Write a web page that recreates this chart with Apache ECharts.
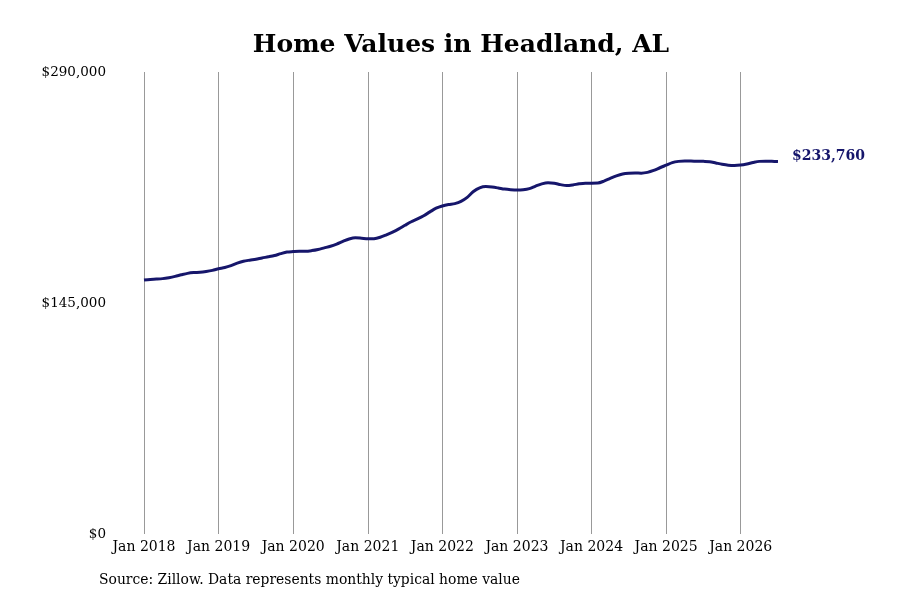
<!DOCTYPE html>
<html>
<head>
<meta charset="utf-8">
<script src="https://cdn.jsdelivr.net/npm/echarts@6/dist/echarts.min.js"></script>
<style>
html,body{margin:0;padding:0;background:#fff;}
#main{width:900px;height:600px;}
</style>
</head>
<body>
<div id="main"></div>
<script>
//年份
var years = [2018, 2019, 2020, 2021, 2022, 2023, 2024, 2025, 2026];
var monthNames = ['Jan','Feb','Mar','Apr','May','Jun','Jul','Aug','Sep','Oct','Nov','Dec'];
//月度房价 (Jan 2018 - Jul 2026)
var values2018 = [159400,159800,160000,160300,160900,161700,162700,163600,164100,164300,164800,165500];
var values2019 = [166500,167300,168500,170000,171200,171900,172500,173300,174000,174800,176000,177000];
var values2020 = [177300,177500,177500,177900,178600,179600,180600,182000,183700,185200,186000,185700];
var values2021 = [185300,185400,186300,187800,189500,191500,193800,196000,197800,199800,202200,204500];
var values2022 = [205900,206800,207400,208800,211300,215000,217300,218100,217800,217200,216500,216100];
var values2023 = [215900,216100,216800,218400,219800,220500,220200,219300,218700,219100,219800,220200];
var values2024 = [220200,220300,221500,223200,224800,226000,226500,226600,226500,227000,228200,229900];
var values2025 = [231500,233100,233900,234200,234100,234000,233900,233700,232900,232100,231500,231300];
var values2026 = [231600,232300,233200,233900,234000,233900,233760];
//Y轴刻度
var yTicks = [0, 145000, 290000];

window.onload = function() {
	initChart_line("main");
};

function fmtMoney(v) {
	return '$' + Math.round(v).toString().replace(/\B(?=(\d{3})+(?!\d))/g, ',');
}

/**
 * 折线图
 */
function initChart_line(selector) {
	var dom = document.getElementById(selector);
	var myChart = echarts.init(dom);
	var allValues = [].concat(values2018, values2019, values2020, values2021, values2022,
		values2023, values2024, values2025, values2026);
	var time = [];
	for (var i = 0; i < allValues.length; i++) {
		time.push(monthNames[i % 12] + ' ' + years[Math.floor(i / 12)]);
	}
	var font = 'DejaVu Serif';
	var option = {
		backgroundColor: '#fff',
		title: {
			text: 'Home Values in Headland, AL',
			left: 456,
			top: 28,
			textAlign: 'center',
			textStyle: {
				fontFamily: font,
				fontWeight: 'bold',
				fontSize: 25,
				color: '#000'
			}
		},
		graphic: [{
			type: 'text',
			left: 99,
			top: 573,
			style: {
				text: 'Source: Zillow. Data represents monthly typical home value',
				font: '13.9px "DejaVu Serif"',
				fill: '#000'
			}
		}],
		grid: {
			left: 144,
			right: 122,
			top: 72,
			bottom: 66,
			containLabel: false
		},
		xAxis: {
			type: 'category',
			boundaryGap: false,
			data: time,
			axisLine: {show: false},
			axisTick: {show: false},
			axisLabel: {
				interval: function(index) { return index % 12 === 0; },
				fontFamily: font,
				fontSize: 14,
				color: '#000',
				margin: 6
			},
			splitLine: {
				show: true,
				interval: function(index) { return index % 12 === 0; },
				lineStyle: {color: '#999', width: 1}
			}
		},
		yAxis: {
			type: 'value',
			min: yTicks[0],
			max: yTicks[2],
			interval: yTicks[1],
			axisLine: {show: false},
			axisTick: {show: false},
			splitLine: {show: false},
			axisLabel: {
				fontFamily: font,
				fontSize: 13.5,
				color: '#000',
				margin: 38,
				padding: [4, 0, 0, 0],
				formatter: function(v) { return fmtMoney(v); }
			}
		},
		series: [{
			type: 'line',
			data: allValues,
			showSymbol: false,
			smooth: 0.3,
			lineStyle: {color: '#16166b', width: 3},
			itemStyle: {color: '#16166b'},
			endLabel: {
				show: true,
				distance: 14,
				offset: [0, -5],
				fontFamily: font,
				fontWeight: 'bold',
				fontSize: 14,
				color: '#16166b',
				formatter: function(p) { return fmtMoney(p.value); }
			},
			animation: false
		}],
		animation: false
	};
	myChart.setOption(option, true);
}
</script>
</body>
</html>
